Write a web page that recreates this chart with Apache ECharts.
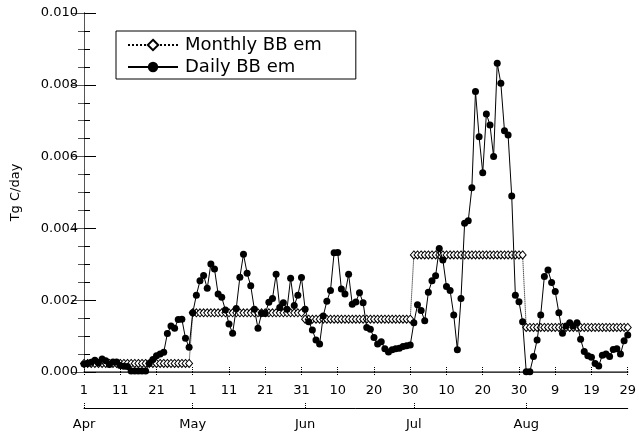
<!DOCTYPE html>
<html>
<head>
<meta charset="utf-8">
<script src="https://cdn.jsdelivr.net/npm/echarts@6/dist/echarts.min.js"></script>
<style>
    html, body { margin: 0; padding: 0; background: #fff; }
    #main { width: 639px; height: 433px; }
</style>
</head>
<body>
<div id="main"></div>
<script>
    // day 0 = 1 Apr ... day 150 = 29 Aug
    var dayTickLabels = ['1', '11', '21', '1', '11', '21', '31', '10', '20', '30', '10', '20', '30', '9', '19', '29'];
    var monthNames = ['Apr', 'May', 'Jun', 'Jul', 'Aug'];
    var monthStarts = [0, 30, 61, 91, 122];
    var monthlyEm = [0.00024, 0.00165, 0.00147, 0.00326, 0.00124];

    var dailyApr = [0.00022, 0.00024, 0.00027, 0.00033, 0.00026, 0.00036, 0.00031, 0.00021, 0.00028, 0.00028,
        0.00018, 0.00016, 0.00015, 0.00003, 0.00003, 0.00003, 0.00003, 0.00003, 0.00024, 0.00035,
        0.00045, 0.00050, 0.00055, 0.00107, 0.00128, 0.00122, 0.00146, 0.00147, 0.00094, 0.00069];
    var dailyMay = [0.00165, 0.00214, 0.00254, 0.00269, 0.00233, 0.00301, 0.00287, 0.00217, 0.00208, 0.00173,
        0.00134, 0.00108, 0.00177, 0.00264, 0.00328, 0.00275, 0.00240, 0.00175, 0.00122, 0.00163,
        0.00163, 0.00194, 0.00205, 0.00272, 0.00180, 0.00193, 0.00175, 0.00261, 0.00185, 0.00214, 0.00263];
    var dailyJun = [0.00175, 0.00140, 0.00117, 0.00089, 0.00078, 0.00156, 0.00197, 0.00227, 0.00332, 0.00333,
        0.00231, 0.00217, 0.00272, 0.00189, 0.00195, 0.00221, 0.00193, 0.00124, 0.00119, 0.00096,
        0.00078, 0.00084, 0.00065, 0.00056, 0.00062, 0.00065, 0.00066, 0.00071, 0.00073, 0.00075];
    var dailyJul = [0.00137, 0.00187, 0.00171, 0.00143, 0.00222, 0.00254, 0.00268, 0.00344, 0.00312, 0.00238,
        0.00227, 0.00159, 0.00062, 0.00205, 0.00414, 0.00421, 0.00513, 0.00781, 0.00655, 0.00555,
        0.00719, 0.00688, 0.00600, 0.00860, 0.00804, 0.00672, 0.00660, 0.00490, 0.00214, 0.00196, 0.00140];
    var dailyAug = [0.00001, 0.00001, 0.00043, 0.00089, 0.00159, 0.00266, 0.00284, 0.00249, 0.00224, 0.00165,
        0.00108, 0.00128, 0.00137, 0.00128, 0.00137, 0.00091, 0.00057, 0.00045, 0.00041, 0.00024,
        0.00017, 0.00047, 0.00050, 0.00043, 0.00063, 0.00065, 0.00050, 0.00087, 0.00103];

    var daily = dailyApr.concat(dailyMay, dailyJun, dailyJul, dailyAug);
    var dailyData = [], monthlyData = [];
    for (var d = 0; d < daily.length; d++) {
        dailyData.push([d, daily[d]]);
        var m = 0;
        for (var k = 0; k < monthStarts.length; k++) {
            if (d >= monthStarts[k]) m = k;
        }
        monthlyData.push([d, monthlyEm[m]]);
    }

    var FONT = 'DejaVu Sans';
    var chart = echarts.init(document.getElementById('main'));
    var option = {
        animation: false,
        backgroundColor: '#fff',
        textStyle: { fontFamily: FONT, color: '#000' },
        grid: { left: 84, right: 2, top: 13, bottom: 61 },
        legend: {
            orient: 'vertical',
            left: 116,
            top: 31,
            padding: [5, 34, 3, 11],
            itemGap: 4,
            itemWidth: 50,
            itemHeight: 13,
            borderColor: '#000',
            borderWidth: 1,
            backgroundColor: '#fff',
            textStyle: { fontFamily: FONT, fontSize: 18, lineHeight: 18, color: '#000', padding: [0, 0, 0, 2] },
            data: ['Monthly BB em', 'Daily BB em']
        },
        xAxis: [{
            type: 'value',
            min: 0,
            max: 150,
            interval: 10,
            position: 'bottom',
            axisLine: { lineStyle: { color: '#000', width: 1 } },
            axisTick: { inside: true, length: 5, lineStyle: { color: '#000', type: 'dotted' } },
            splitLine: { show: false },
            axisLabel: {
                margin: 12,
                fontSize: 13,
                color: '#000',
                showMinLabel: true,
                showMaxLabel: true,
                formatter: function(v) {
                    return dayTickLabels[Math.round(v / 10)];
                }
            }
        }, {
            type: 'value',
            min: 0,
            max: 150,
            interval: 10,
            position: 'top',
            axisLine: { lineStyle: { color: '#555', width: 1.5 } },
            axisTick: { inside: true, length: 4, lineStyle: { color: '#000', type: 'dotted' } },
            axisLabel: { show: false },
            splitLine: { show: false }
        }, {
            type: 'value',
            min: 0,
            max: 150,
            position: 'bottom',
            offset: 36,
            axisLine: { lineStyle: { color: '#000', width: 1 } },
            axisTick: {
                inside: true,
                length: 6,
                customValues: monthStarts,
                lineStyle: { color: '#000', type: 'dotted' }
            },
            axisLabel: {
                margin: 10,
                fontSize: 13,
                color: '#000',
                customValues: monthStarts,
                formatter: function(v) {
                    return monthNames[monthStarts.indexOf(v)];
                }
            },
            splitLine: { show: false }
        }],
        yAxis: [{
            type: 'value',
            min: 0,
            max: 0.010,
            interval: 0.002,
            name: 'Tg C/day',
            nameLocation: 'middle',
            nameRotate: 90,
            nameGap: 62,
            nameTextStyle: { fontFamily: FONT, fontSize: 13, color: '#000' },
            axisLine: { show: true, lineStyle: { color: '#000', width: 1 } },
            axisTick: { show: true, inside: true, length: 12, lineStyle: { color: '#000' } },
            minorTick: { show: true, splitNumber: 4, length: 6, lineStyle: { color: '#000' } },
            splitLine: { show: false },
            axisLabel: {
                margin: 6,
                fontSize: 13,
                color: '#000',
                formatter: function(v) {
                    return v.toFixed(3);
                }
            }
        }, {
            type: 'value',
            min: 0,
            max: 0.010,
            interval: 0.002,
            position: 'right',
            axisLine: { show: true, lineStyle: { color: '#555', width: 1 } },
            axisTick: { show: true, inside: true, length: 12, lineStyle: { color: '#555' } },
            minorTick: { show: true, splitNumber: 4, length: 6, lineStyle: { color: '#555' } },
            splitLine: { show: false },
            axisLabel: { show: false }
        }],
        series: [{
            name: 'Monthly BB em',
            type: 'line',
            data: monthlyData,
            symbol: 'diamond',
            symbolSize: [7, 8],
            showAllSymbol: true,
            itemStyle: { color: '#fff', borderColor: '#000', borderWidth: 1 },
            lineStyle: { color: '#000', width: 1, type: 'dotted' },
            z: 2
        }, {
            name: 'Daily BB em',
            type: 'line',
            data: dailyData,
            symbol: 'circle',
            symbolSize: 7,
            showAllSymbol: true,
            itemStyle: { color: '#000' },
            lineStyle: { color: '#000', width: 1 },
            z: 3
        }]
    };
    chart.setOption(option);
</script>
</body>
</html>
